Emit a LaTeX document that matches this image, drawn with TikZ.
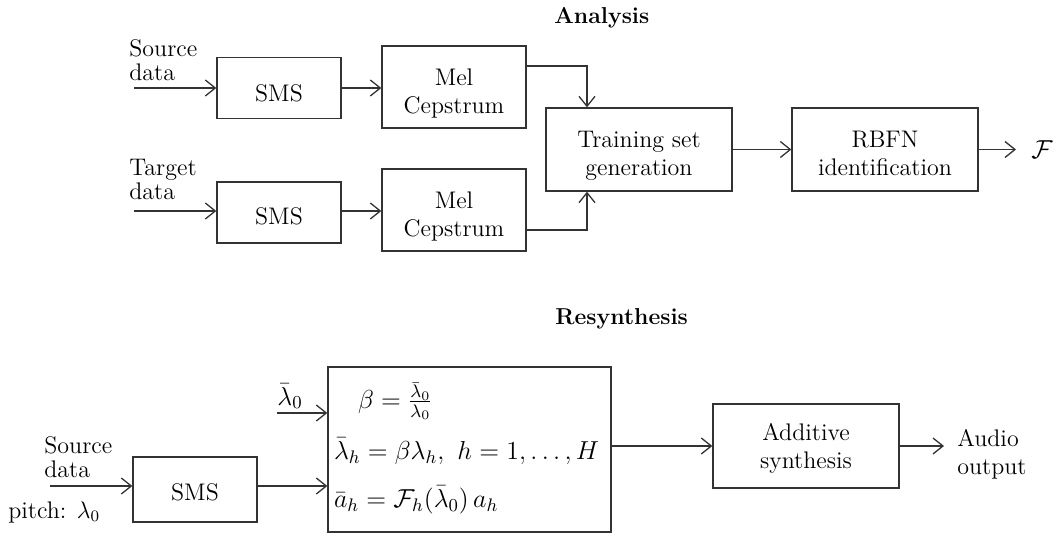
\RequirePackage{fix-cm}
\documentclass[tikz,border=0pt]{standalone}
\usetikzlibrary{arrows.meta}
\newcommand\boxtxt[2][3.5pt]{\raisebox{-#1}[\height][\depth]{\begin{tabular}{@{}c@{}}#2\end{tabular}}}
\begin{document}
\begin{tikzpicture}[x=0.5pt,y=-0.5pt,
  line/.style={draw=black!80, line width=0.65pt},
  arr/.style={line, -{Straight Barb[length=5pt,width=8pt]}},
  box/.style={line, rectangle, inner sep=0pt, align=center, font=\fontsize{12}{14}\selectfont},
  lbl/.style={inner sep=0pt, align=left, font=\fontsize{12}{12}\selectfont},
  eqn/.style={inner sep=0pt, font=\fontsize{13}{15}\selectfont},
  ttl/.style={inner sep=0pt, font=\fontsize{11.5}{14}\selectfont\bfseries},
]
\useasboundingbox (0,0) rectangle (1056,536);
% ---------- Analysis ----------
\node[ttl, anchor=base west] (t1) at (554,23) {Analysis};
\node[box, minimum width=62pt, minimum height=30.5pt] (sms1) at (279,88) {\boxtxt[4pt]{SMS}};
\node[box, minimum width=72pt, minimum height=41pt] (mel1) at (454,87) {\boxtxt[3.2pt]{Mel\\Cepstrum}};
\node[box, minimum width=62pt, minimum height=30.5pt] (sms2) at (279,212.5) {\boxtxt[3.2pt]{SMS}};
\node[box, minimum width=72pt, minimum height=41pt] (mel2) at (454,210) {\boxtxt[3.2pt]{Mel\\Cepstrum}};
\node[box, minimum width=93pt, minimum height=41.5pt] (train) at (639,149.5) {\boxtxt[3.4pt]{Training set\\generation}};
\node[box, minimum width=93pt, minimum height=41.5pt] (rbfn) at (885,149.5) {\boxtxt[3.4pt]{RBFN\\identification}};
\node[lbl, anchor=north west] (src1) at (129,39) {Source\\data};
\node[lbl, anchor=north west] (tgt) at (129,159) {Target\\data};
\node[eqn] (F) at (1042,149.5) {$\mathcal{F}$};
\coordinate (in1) at (134,88);
\coordinate (in2) at (134,211);
\coordinate (fout) at (1016,149.5);
\draw[arr] (in1) -- (in1 -| sms1.west);
\draw[arr] (sms1.east) -- (sms1.east -| mel1.west);
\draw[arr] (in2) -- (in2 -| sms2.west);
\draw[arr] (sms2.east |- in2) -- (in2 -| mel2.west);
\draw[arr] ([yshift=10.5pt]mel1.east) -| ([xshift=-26pt]train.north);
\draw[arr] ([yshift=-10pt]mel2.east) -| ([xshift=-26pt]train.south);
\draw[arr] (train.east) -- (rbfn.west);
\draw[arr] (rbfn.east) -- (fout);
% ---------- Resynthesis ----------
\node[ttl, anchor=base west] (t2) at (555,324) {Resynthesis};
\node[box, minimum width=62pt, minimum height=32.5pt] (sms3) at (195,489.5) {\boxtxt[2.5pt]{SMS}};
\node[box, font=\fontsize{13}{15}\selectfont, minimum width=141.5pt, minimum height=82.5pt, text width=135.5pt, inner xsep=3pt, align=left] (big) at (469.5,449.5)
  {\begin{tabular}{@{}l@{}}
   \hspace*{12pt}$\beta = \frac{\bar\lambda_0}{\lambda_0}$\\[10.5pt]
   $\bar\lambda_h = \beta\lambda_h,\ h = 1,\ldots,H$\\[8.5pt]
   $\bar a_h = \mathcal{F}_h(\bar\lambda_0)\,a_h$
   \end{tabular}};
\node[box, minimum width=93pt, minimum height=42pt] (add) at (806,446) {\boxtxt[1.5pt]{Additive\\synthesis}};
\node[eqn, anchor=base west] (l0) at (277,405) {$\bar\lambda_0$};
\node[lbl, anchor=north west] (src3) at (44,436) {Source\\data};
\node[lbl, anchor=base west] (pitch) at (8,518) {pitch: $\lambda_0$};
\node[lbl, anchor=north west, font=\fontsize{12}{14}\selectfont] (audio) at (957,429) {Audio\\output};
\coordinate (l0in) at (277,413);
\coordinate (s3in) at (50,486);
\coordinate (aout) at (944,446);
\draw[arr] (l0in) -- (l0in -| big.west);
\draw[arr] (s3in) -- (s3in -| sms3.west);
\draw[arr] (sms3.east |- s3in) -- (s3in -| big.west);
\draw[arr] (big.east |- add.west) -- (add.west);
\draw[arr] (add.east) -- (aout);
\end{tikzpicture}
\end{document}
